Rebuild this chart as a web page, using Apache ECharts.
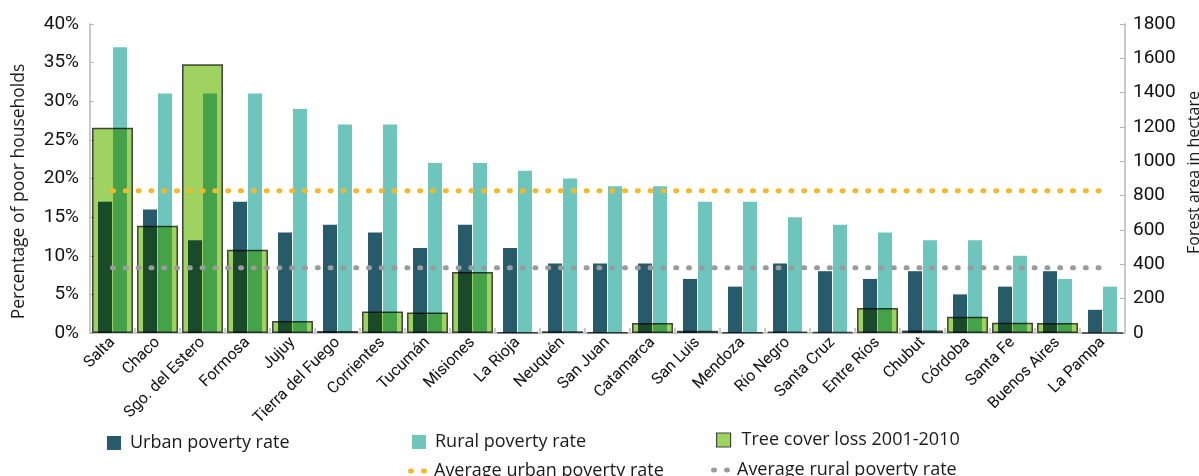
<!DOCTYPE html>
<html><head><meta charset="utf-8">
<script src="https://cdn.jsdelivr.net/npm/echarts@6/dist/echarts.min.js"></script>
<style>html,body{margin:0;padding:0;background:#fff}#c{width:1199px;height:476px}</style>
</head><body><div id="c"></div>
<script>
const categories = ['Salta','Chaco','Sgo. del Estero','Formosa','Jujuy','Tierra del Fuego','Corrientes','Tucumán','Misiones','La Rioja','Neuquén','San Juan','Catamarca','San Luis','Mendoza','Río Negro','Santa Cruz','Entre Ríos','Chubut','Córdoba','Santa Fe','Buenos Aires','La Pampa'];
const urbanRate = [17,16,12,17,13,14,13,11,14,11,9,9,9,7,6,9,8,7,8,5,6,8,3];
const ruralRate = [37,31,31,31,29,27,27,22,22,21,20,19,19,17,17,15,14,13,12,12,10,7,6];
const treeLoss = [1195,625,1565,485,70,12,125,120,355,3,10,3,58,13,3,8,5,145,15,95,60,58,0];
const avgUrbanRate = 18.4;
const avgRuralRate = 8.45;
const names = ['Urban poverty rate','Rural poverty rate','Tree cover loss 2001-2010','Average urban poverty rate','Average rural poverty rate'];

const tickFont = "Roboto,'Open Sans',sans-serif";
const body = "'Open Sans',sans-serif";
const axisGray = '#c9c9c9';
const dots = 'path://M3,0A3,2.5,0,1,1,3,5A3,2.5,0,1,1,3,0ZM16,0A3,2.5,0,1,1,16,5A3,2.5,0,1,1,16,0Z';

const chart = echarts.init(document.getElementById('c'), null, {renderer:'canvas'});
const legendText = {fontFamily: body, fontSize: 18, color: '#1a1a1a'};
function leg(name, left, top, pad, extra) {
  return Object.assign({data:[name], left:left, top:top, padding:0, itemGap:0, selectedMode:false,
    itemWidth:14, itemHeight:14, icon:'rect', itemStyle:{borderWidth:0},
    textStyle:Object.assign({}, legendText, {padding:[0,0,0,pad]})}, extra||{});
}
chart.setOption({
  animation:false,
  backgroundColor:'#fff',
  grid:{left:90, right:74, top:24, bottom:143, outerBoundsMode:'none', containLabel:false},
  legend:[
    leg(names[0], 107, 434, 4),
    leg(names[1], 412, 433, 4),
    leg(names[2], 716, 431, 6, {itemStyle:{borderWidth:1.2, borderColor:'#444'}}),
    leg(names[3], 408, 462, 2, {icon:dots, itemWidth:19, itemHeight:5}),
    leg(names[4], 711, 461, 2, {icon:dots, itemWidth:19, itemHeight:5})
  ],
  xAxis:[
    {type:'category', data:categories, boundaryGap:true,
     axisLine:{lineStyle:{color:axisGray, width:2}},
     axisTick:{show:true, inside:true, length:5, lineStyle:{color:axisGray, width:2}},
     axisLabel:{rotate:45, fontFamily:tickFont, fontSize:16, color:'#111', margin:7, interval:0}},
    {type:'category', data:categories, show:false}
  ],
  yAxis:[
    {type:'value', min:0, max:40, interval:5, position:'left',
     name:'Percentage of poor households', nameLocation:'middle', nameGap:62, nameRotate:90,
     nameTextStyle:{fontFamily:body, fontSize:17.5, color:'#1a1a1a', padding:[0,26,0,0]},
     axisLine:{show:true, lineStyle:{color:axisGray, width:2}},
     axisTick:{show:true, inside:true, length:4, lineStyle:{color:'#b5b5b5'}},
     splitLine:{show:false},
     axisLabel:{formatter:'{value}%', fontFamily:tickFont, fontSize:19, color:'#111', margin:11}},
    {type:'value', min:0, max:1800, interval:200, position:'right',
     name:'Forest area in hectare', nameLocation:'middle', nameGap:61, nameRotate:90, nameMoveOverlap:false,
     nameTextStyle:{fontFamily:body, fontSize:16, color:'#1a1a1a', padding:[0,0,0,12]},
     axisLine:{show:true, lineStyle:{color:axisGray, width:2}},
     axisTick:{show:true, inside:true, length:5, lineStyle:{color:'#b5b5b5'}},
     splitLine:{show:false},
     axisLabel:{formatter:function(v){return String(v);}, fontFamily:tickFont, fontSize:19, color:'#111', margin:8}}
  ],
  series:[
    {name:names[0], type:'bar', xAxisIndex:0, yAxisIndex:0, data:urbanRate, barWidth:14, barGap:'7%',
     itemStyle:{color:'#275a6a'}},
    {name:names[1], type:'bar', xAxisIndex:0, yAxisIndex:0, data:ruralRate, barWidth:14, barGap:'7%',
     itemStyle:{color:'#6ec5bb'}},
    {name:names[2], type:'bar', xAxisIndex:1, yAxisIndex:1, data:treeLoss, barWidth:41, z:3,
     blendMode:'multiply',
     itemStyle:{color:'#a0d262', borderColor:'#4a4a4a', borderWidth:1.5}},
    {name:names[3], type:'line', xAxisIndex:0, yAxisIndex:0, z:5, symbol:'none',
     data:[[categories[0], avgUrbanRate],[categories[categories.length-1], avgUrbanRate]],
     itemStyle:{color:'#f6b82a'},
     lineStyle:{color:'#f6b82a', width:5, type:[1,11.8], cap:'round'}},
    {name:names[4], type:'line', xAxisIndex:0, yAxisIndex:0, z:5, symbol:'none',
     data:[[categories[0], avgRuralRate],[categories[categories.length-1], avgRuralRate]],
     itemStyle:{color:'#9b9b9b'},
     lineStyle:{color:'#9b9b9b', width:5, type:[1,11.8], cap:'round'}}
  ]
});
</script></body></html>
